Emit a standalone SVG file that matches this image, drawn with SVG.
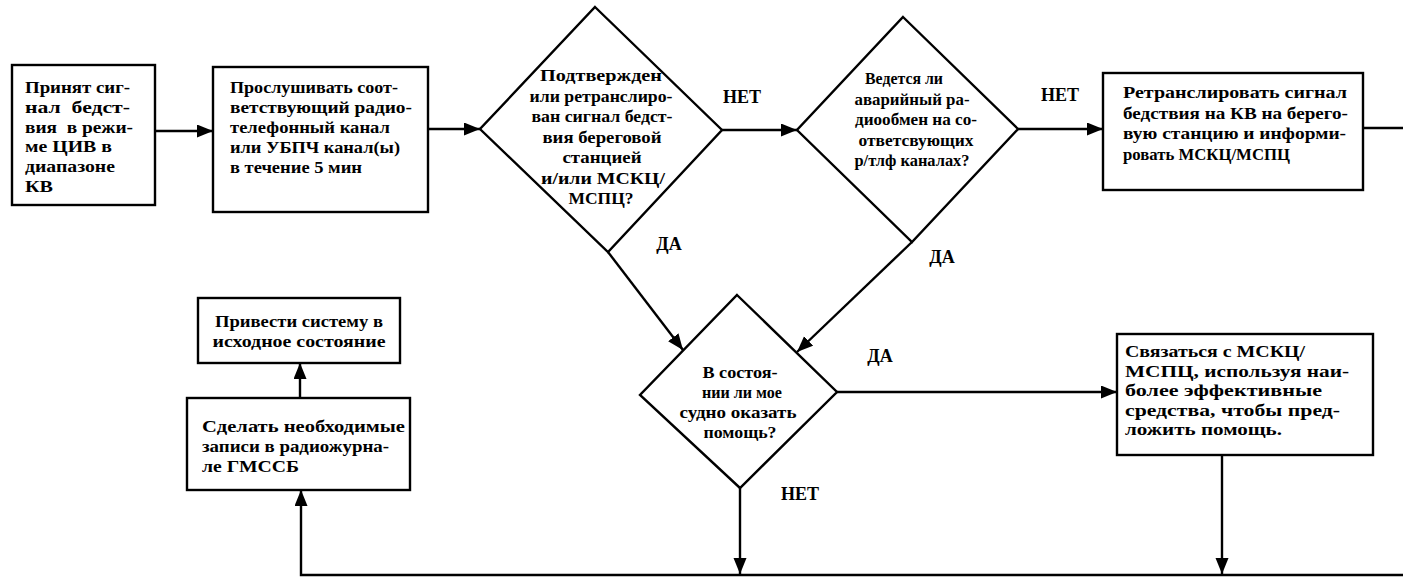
<svg xmlns="http://www.w3.org/2000/svg" width="1403" height="577" viewBox="0 0 1403 577">
<style>
.box{fill:#fff;stroke:#000;stroke-width:2.4}
.dia{fill:#fff;stroke:#000;stroke-width:2.4;stroke-linejoin:miter}
.t{font-family:"Liberation Serif","Times New Roman",serif;font-weight:bold;font-size:16.5px;fill:#000}
.c{text-anchor:middle}
.lbl{font-family:"Liberation Serif","Times New Roman",serif;font-weight:bold;font-size:18px;fill:#000;text-anchor:middle}
.ln{fill:none;stroke:#000;stroke-width:2.4}
.ar{marker-end:url(#ah)}
</style>
<defs>
<marker id="ah" markerUnits="userSpaceOnUse" markerWidth="18" markerHeight="14" refX="16" refY="6.5" orient="auto">
<path d="M0,0 L16,6.5 L0,13 z" fill="#000"/>
</marker>
</defs>
<g id="connectors">
<line class="ln ar" x1="155" y1="131" x2="213" y2="131"/>
<line class="ln ar" x1="428" y1="129" x2="480" y2="129"/>
<line class="ln ar" x1="722" y1="130" x2="797" y2="130"/>
<line class="ln ar" x1="1018" y1="129" x2="1103" y2="129"/>
<line class="ln" x1="1363" y1="128" x2="1403" y2="128"/>
<line class="ln ar" x1="608" y1="252" x2="683" y2="350"/>
<line class="ln ar" x1="912" y1="242" x2="797" y2="352"/>
<line class="ln ar" x1="837" y1="392" x2="1117" y2="392"/>
<line class="ln ar" x1="1222" y1="455" x2="1222" y2="574"/>
<line class="ln ar" x1="740" y1="488" x2="740" y2="574"/>
<path class="ln ar" d="M1403,575 L301,575 L301,490"/>
<line class="ln ar" x1="300" y1="398" x2="300" y2="363"/>
<text class="lbl" x="742" y="103">НЕТ</text>
<text class="lbl" x="1060" y="101">НЕТ</text>
<text class="lbl" x="669" y="250">ДА</text>
<text class="lbl" x="942" y="263">ДА</text>
<text class="lbl" x="880" y="362">ДА</text>
<text class="lbl" x="800" y="500">НЕТ</text>
</g>
<g id="n1">
<rect class="box" x="12" y="65" width="143" height="140"/>
<text class="t" x="25" y="93" textLength="105" lengthAdjust="spacingAndGlyphs">Принят сиг-</text>
<text class="t" x="25" y="113" textLength="105" lengthAdjust="spacingAndGlyphs" xml:space="preserve">нал  бедст-</text>
<text class="t" x="25" y="133" textLength="108" lengthAdjust="spacingAndGlyphs" xml:space="preserve">вия  в режи-</text>
<text class="t" x="25" y="152" textLength="87" lengthAdjust="spacingAndGlyphs">ме ЦИВ в</text>
<text class="t" x="25" y="172" textLength="90" lengthAdjust="spacingAndGlyphs">диапазоне</text>
<text class="t" x="25" y="192" textLength="28" lengthAdjust="spacingAndGlyphs">КВ</text>
</g>
<g id="n2">
<rect class="box" x="213" y="67" width="215" height="145"/>
<text class="t" x="230" y="93" textLength="168" lengthAdjust="spacingAndGlyphs">Прослушивать соот-</text>
<text class="t" x="230" y="113" textLength="182" lengthAdjust="spacingAndGlyphs">ветствующий радио-</text>
<text class="t" x="230" y="133" textLength="160" lengthAdjust="spacingAndGlyphs">телефонный канал</text>
<text class="t" x="230" y="153" textLength="170" lengthAdjust="spacingAndGlyphs">или УБПЧ канал(ы)</text>
<text class="t" x="230" y="173" textLength="132" lengthAdjust="spacingAndGlyphs">в течение 5 мин</text>
</g>
<g id="d1">
<polygon class="dia" points="595,7 722,130 608,252 480,129"/>
<text class="t c" x="601" y="81" textLength="122" lengthAdjust="spacingAndGlyphs">Подтвержден</text>
<text class="t c" x="601" y="101.5" textLength="143" lengthAdjust="spacingAndGlyphs">или ретранслиро-</text>
<text class="t c" x="602" y="122" textLength="141" lengthAdjust="spacingAndGlyphs">ван сигнал бедст-</text>
<text class="t c" x="602" y="142.5" textLength="119" lengthAdjust="spacingAndGlyphs">вия береговой</text>
<text class="t c" x="602" y="163" textLength="79" lengthAdjust="spacingAndGlyphs">станцией</text>
<text class="t c" x="603" y="183.5" textLength="124" lengthAdjust="spacingAndGlyphs">и/или МСКЦ/</text>
<text class="t c" x="601" y="204" textLength="65" lengthAdjust="spacingAndGlyphs">МСПЦ?</text>
</g>
<g id="d2">
<polygon class="dia" points="903,17 1018,129 912,242 797,130"/>
<text class="t c" x="904" y="84" textLength="78" lengthAdjust="spacingAndGlyphs">Ведется ли</text>
<text class="t c" x="912" y="104.5" textLength="115" lengthAdjust="spacingAndGlyphs">аварийный ра-</text>
<text class="t c" x="916" y="125" textLength="122" lengthAdjust="spacingAndGlyphs">диообмен на со-</text>
<text class="t c" x="916" y="145.5" textLength="115" lengthAdjust="spacingAndGlyphs">ответсвующих</text>
<text class="t c" x="912" y="166" textLength="115" lengthAdjust="spacingAndGlyphs">р/тлф каналах?</text>
</g>
<g id="n3">
<rect class="box" x="1103" y="73" width="260" height="117"/>
<text class="t" x="1123" y="98" textLength="224" lengthAdjust="spacingAndGlyphs">Ретранслировать сигнал</text>
<text class="t" x="1123" y="118.5" textLength="225" lengthAdjust="spacingAndGlyphs">бедствия на КВ на берего-</text>
<text class="t" x="1123" y="139" textLength="223" lengthAdjust="spacingAndGlyphs">вую станцию и информи-</text>
<text class="t" x="1123" y="159.5" textLength="167" lengthAdjust="spacingAndGlyphs">ровать МСКЦ/МСПЦ</text>
</g>
<g id="d3">
<polygon class="dia" points="737,295 837,392 740,488 640,395"/>
<text class="t c" x="740" y="378" textLength="75" lengthAdjust="spacingAndGlyphs">В состоя-</text>
<text class="t c" x="742" y="398" textLength="80" lengthAdjust="spacingAndGlyphs">нии ли мое</text>
<text class="t c" x="738" y="418" textLength="117" lengthAdjust="spacingAndGlyphs">судно оказать</text>
<text class="t c" x="740" y="438" textLength="73" lengthAdjust="spacingAndGlyphs">помощь?</text>
</g>
<g id="n5">
<rect class="box" x="1117" y="334" width="256" height="121"/>
<text class="t" x="1125" y="357" textLength="180" lengthAdjust="spacingAndGlyphs">Связаться с МСКЦ/</text>
<text class="t" x="1125" y="376.5" textLength="224" lengthAdjust="spacingAndGlyphs">МСПЦ, используя наи-</text>
<text class="t" x="1125" y="396" textLength="197" lengthAdjust="spacingAndGlyphs">более эффективные</text>
<text class="t" x="1125" y="415.5" textLength="215" lengthAdjust="spacingAndGlyphs">средства, чтобы пред-</text>
<text class="t" x="1125" y="435" textLength="157" lengthAdjust="spacingAndGlyphs">ложить помощь.</text>
</g>
<g id="n6">
<rect class="box" x="198" y="298" width="202" height="65"/>
<text class="t c" x="299" y="327" textLength="168" lengthAdjust="spacingAndGlyphs">Привести систему в</text>
<text class="t c" x="299" y="347" textLength="173" lengthAdjust="spacingAndGlyphs">исходное состояние</text>
</g>
<g id="n4">
<rect class="box" x="187" y="398" width="223" height="92"/>
<text class="t" x="202" y="432" textLength="203" lengthAdjust="spacingAndGlyphs">Сделать необходимые</text>
<text class="t" x="202" y="452" textLength="187" lengthAdjust="spacingAndGlyphs">записи в радиожурна-</text>
<text class="t" x="202" y="472" textLength="97" lengthAdjust="spacingAndGlyphs">ле ГМССБ</text>
</g>
</svg>
